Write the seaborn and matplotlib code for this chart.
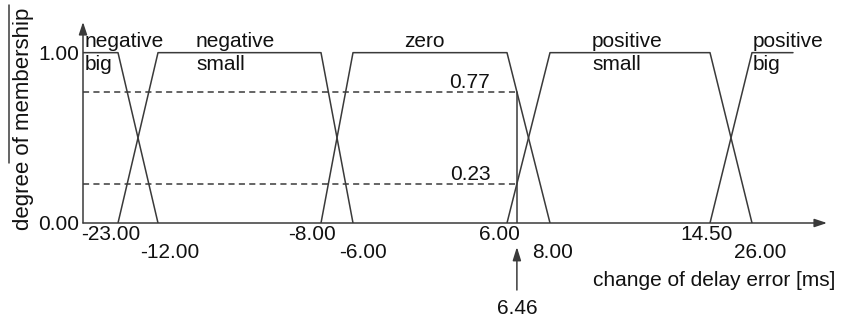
import numpy as np
import matplotlib
matplotlib.use("Agg")
import matplotlib.pyplot as plt
from matplotlib.lines import Line2D
import seaborn as sns

# fuzzy sets of the change of delay error [ms]
breakpoints = [-23.0, -12.0, -8.0, -6.0, 6.0, 8.0, 14.5, 26.0]
x_min, x_max = -35.0, 40.0
set_names = ["negative\nbig", "negative\nsmall", "zero", "positive\nsmall", "positive\nbig"]
set_x = [
    [x_min, -23.0, -12.0],
    [-23.0, -12.0, -8.0, -6.0],
    [-8.0, -6.0, 6.0, 8.0],
    [6.0, 8.0, 14.5, 26.0],
    [14.5, 26.0, 35.0],
]
set_y = [
    [1, 1, 0],
    [0, 1, 1, 0],
    [0, 1, 1, 0],
    [0, 1, 1, 0],
    [0, 1, 1],
]
crisp_input = 6.46
y_ticks = [0.0, 1.0]

# schematic (non linear) axis: value -> position
anchor_val = [x_min, -23.0, -12.0, -8.0, -6.0, 6.0, 8.0, 14.5, 26.0, 35.0, x_max]
anchor_pos = [83, 118, 158, 321, 353, 507, 550, 710, 752, 793, 827]


def fwd(v):
    return np.interp(v, anchor_val, anchor_pos)


def inv(p):
    return np.interp(p, anchor_pos, anchor_val)


sns.set_theme(style="white")
plt.rcParams["font.family"] = ["Liberation Sans", "DejaVu Sans"]
fs = 15
ink = "#3a3a3a"
txt = "#111111"

W, H = 841, 325
fig = plt.figure(figsize=(W / 100, H / 100), dpi=100)
ax = fig.add_axes([83 / W, (H - 223) / H, (827 - 83) / W, (223 - 22) / H])
ax.set_xscale("function", functions=(fwd, inv))
ax.set_xlim(x_min, x_max)
ax.set_ylim(0, 1.18)

for xs, ys in zip(set_x, set_y):
    sns.lineplot(x=xs, y=ys, ax=ax, color=ink, lw=1.1, sort=False, estimator=None)

# degrees of membership of the crisp input
deg = [np.interp(crisp_input, set_x[2], set_y[2]), np.interp(crisp_input, set_x[3], set_y[3])]
for d in deg:
    ax.plot([x_min, crisp_input], [d, d], color=ink, lw=1.1, ls=(0, (4, 2.8)))
    ax.annotate(f"{d:.2f}", xy=(470, d), xycoords=("figure pixels", "data"),
                xytext=(0, 0), textcoords="offset pixels",
                ha="center", va="bottom", fontsize=fs, color=txt)
ax.plot([crisp_input, crisp_input], [0, max(deg)], color=ink, lw=1.1)

# axes with arrows
for s in ax.spines.values():
    s.set_visible(False)
ap = dict(arrowstyle="-|>,head_length=0.75,head_width=0.25", color=ink, lw=1.1,
          mutation_scale=10, shrinkA=0, shrinkB=0)
ax.annotate("", xy=(1, 0), xytext=(0, 0), xycoords="axes fraction", arrowprops=ap)
ax.annotate("", xy=(0, 1), xytext=(0, 0), xycoords="axes fraction", arrowprops=ap)

ax.set_xticks([])
ax.set_yticks(y_ticks)
ax.set_yticklabels([f"{v:.2f}" for v in y_ticks], fontsize=fs, color=txt)
ax.tick_params(axis="y", length=0, pad=3)
ax.set_xlabel("")
ax.set_ylabel("")

# x tick labels in two staggered rows
label_dx = [-7, 12, -9, 10, -8, 3, -3, 8]
for i, (b, dx) in enumerate(zip(breakpoints, label_dx)):
    dy = -12 if i % 2 == 0 else -29
    ax.annotate(f"{b:.2f}", xy=(b, 0), xycoords=("data", "axes fraction"),
                xytext=(dx, dy), textcoords="offset pixels",
                ha="center", va="center", fontsize=fs, color=txt)

# set names (positions in figure pixels)
name_px = [85, 196, 424, 592, 753]
for name, px in zip(set_names, name_px):
    if "\n" in name:
        ax.annotate(name, xy=(px, 1.0), xycoords=("figure pixels", "data"),
                    ha="left", va="center", fontsize=fs, color=txt, linespacing=1.25)
    else:
        ax.annotate(name, xy=(px, 1.0), xycoords=("figure pixels", "data"),
                    xytext=(0, 2), textcoords="offset pixels",
                    ha="center", va="bottom", fontsize=fs, color=txt)

# crisp input marker below the axis
ax.annotate("", xy=(crisp_input, H - 247), xytext=(crisp_input, H - 290),
            xycoords=("data", "figure pixels"), textcoords=("data", "figure pixels"),
            arrowprops=dict(arrowstyle="-|>,head_length=0.8,head_width=0.25", color=ink,
                            lw=1.1, mutation_scale=10, shrinkA=0, shrinkB=0))
ax.annotate(f"{crisp_input:.2f}", xy=(crisp_input, H - 308),
            xycoords=("data", "figure pixels"), ha="center", va="center",
            fontsize=fs, color=txt)

fig.text(714 / W, (H - 280) / H, "change of delay error [ms]", ha="center", va="center",
         fontsize=fs, color=txt)
fig.text(24 / W, (H - 119) / H, "degree of membership", rotation=90, ha="center",
         va="center", fontsize=16, color=txt)
fig.add_artist(Line2D([9 / W, 9 / W], [(H - 5) / H, (H - 163) / H], color=ink, lw=1.1))

fig.savefig("out.png", dpi=100)
